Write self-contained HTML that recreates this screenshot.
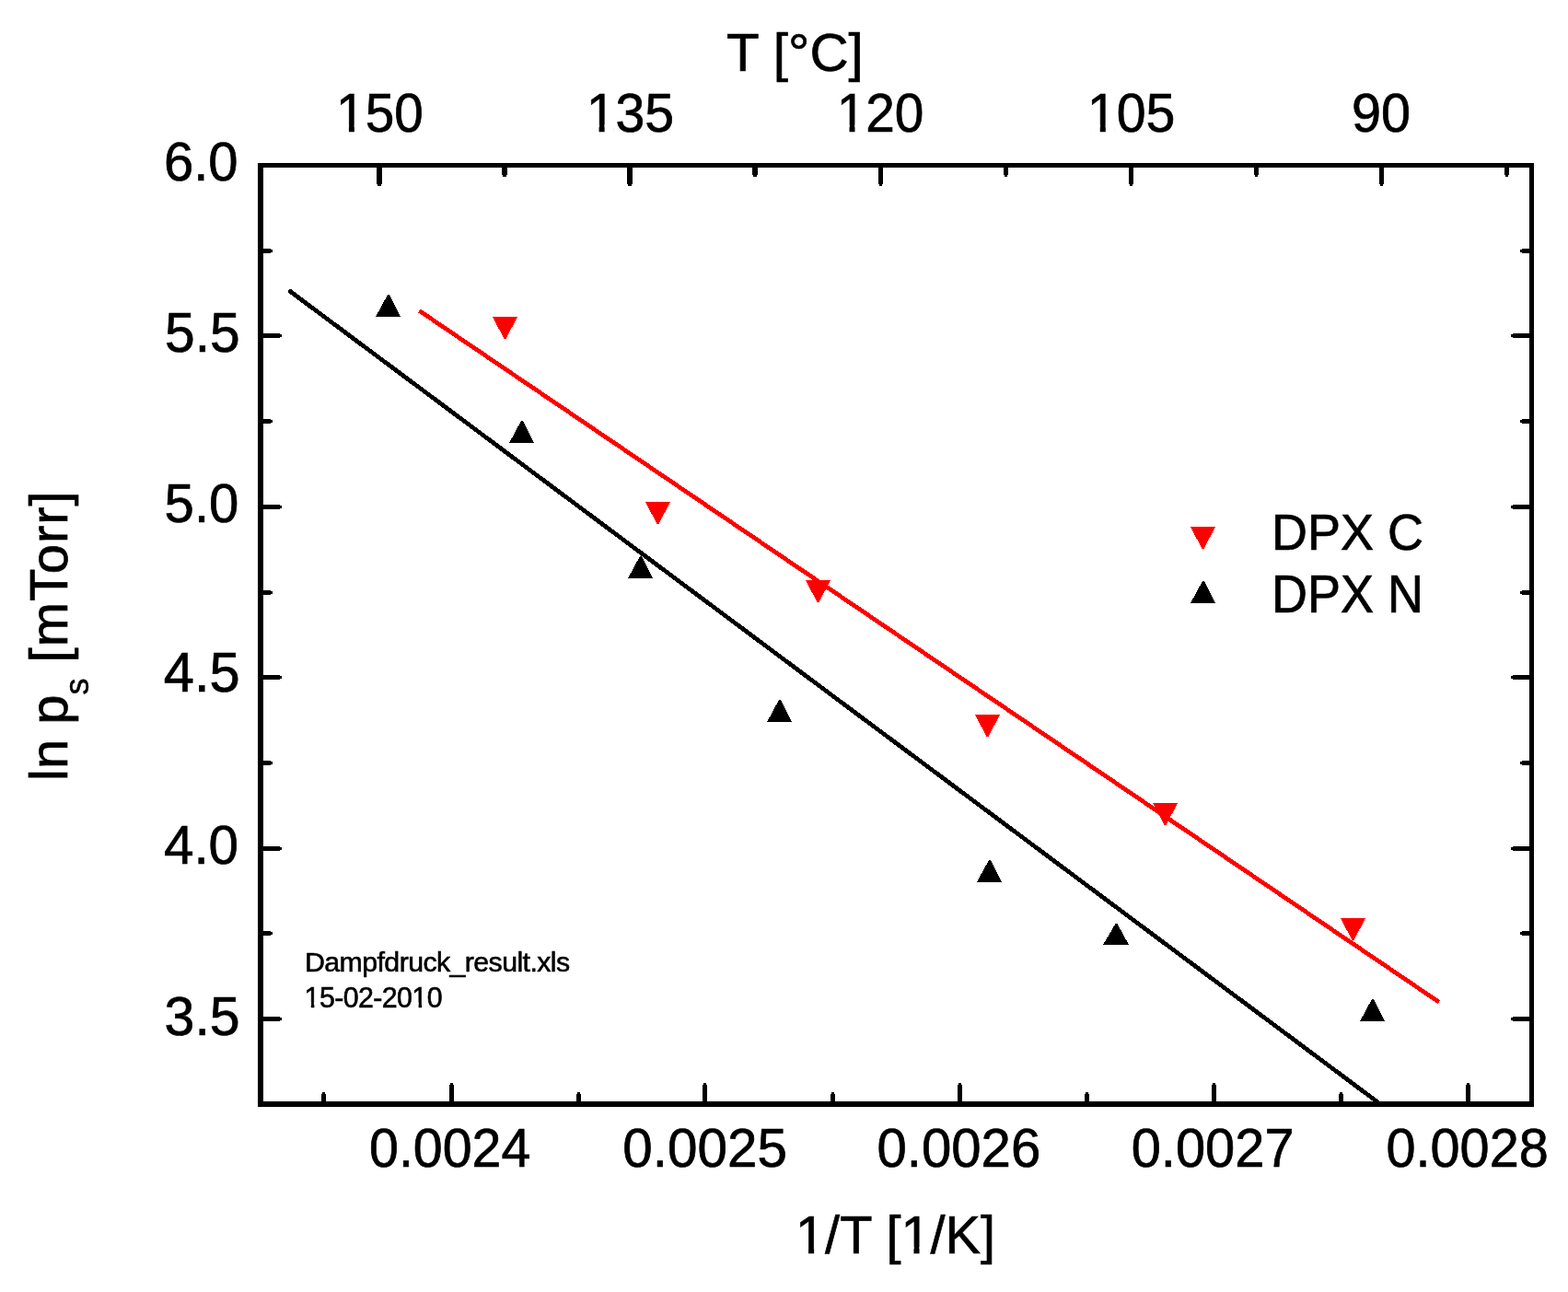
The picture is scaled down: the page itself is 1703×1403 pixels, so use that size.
<!DOCTYPE html>
<html><head><meta charset="utf-8"><title>Dampfdruck</title>
<style>html,body{margin:0;padding:0;background:#fff;overflow:hidden}svg{display:block}</style>
</head><body>
<svg width="1703" height="1403" viewBox="0 0 1703 1403">
<rect x="0" y="0" width="1703" height="1403" fill="#fff"/>
<g fill="none" stroke-linecap="butt" shape-rendering="crispEdges">
<line x1="455.5" y1="337.52" x2="1562.9" y2="1088.2" stroke="#f00" stroke-width="4.7"/>
<line x1="313.6" y1="315.25" x2="1499.2" y2="1199" stroke="#000" stroke-width="4.7"/>
</g>
<g fill="#f00" shape-rendering="crispEdges"><polygon points="535,344 562,344 549.5,368 547.5,368"/><polygon points="701,545 728,545 715.5,569 713.5,569"/><polygon points="875,630 902,630 889.5,654 887.5,654"/><polygon points="1059,776 1086,776 1073.5,800 1071.5,800"/><polygon points="1252,872 1279,872 1266.5,896 1264.5,896"/><polygon points="1456,997 1483,997 1470.5,1021 1468.5,1021"/><polygon points="1293,572 1320,572 1307.5,596 1305.5,596"/></g>
<g fill="#000" shape-rendering="crispEdges"><polygon points="421.0,320 423.0,320 435,344 408,344"/><polygon points="566.0,457 568.0,457 580,481 553,481"/><polygon points="695.0,604 697.0,604 709,628 682,628"/><polygon points="846.0,760 848.0,760 860,784 833,784"/><polygon points="1074.0,934 1076.0,934 1088,957.5 1061,957.5"/><polygon points="1211.5,1003 1213.5,1003 1226,1026 1198,1026"/><polygon points="1490.0,1085 1492.0,1085 1504,1109 1477,1109"/><polygon points="1306.0,631 1308.0,631 1320,655 1293,655"/></g>
<g fill="#000" shape-rendering="crispEdges"><rect x="280.00" y="177.00" width="6" height="1025"/><rect x="1661.00" y="177.00" width="5" height="1025"/><rect x="280.00" y="177.00" width="1386" height="5"/><rect x="280.00" y="1196.00" width="1386" height="6"/><rect x="286.00" y="177.00" width="18" height="5"/><rect x="304.00" y="178.00" width="2" height="3"/><rect x="1643.00" y="177.00" width="18" height="5"/><rect x="1641.00" y="178.00" width="2" height="3"/><rect x="286.00" y="362.40" width="18" height="5"/><rect x="304.00" y="363.40" width="2" height="3"/><rect x="1643.00" y="362.40" width="18" height="5"/><rect x="1641.00" y="363.40" width="2" height="3"/><rect x="286.00" y="547.80" width="18" height="5"/><rect x="304.00" y="548.80" width="2" height="3"/><rect x="1643.00" y="547.80" width="18" height="5"/><rect x="1641.00" y="548.80" width="2" height="3"/><rect x="286.00" y="733.20" width="18" height="5"/><rect x="304.00" y="734.20" width="2" height="3"/><rect x="1643.00" y="733.20" width="18" height="5"/><rect x="1641.00" y="734.20" width="2" height="3"/><rect x="286.00" y="918.60" width="18" height="5"/><rect x="304.00" y="919.60" width="2" height="3"/><rect x="1643.00" y="918.60" width="18" height="5"/><rect x="1641.00" y="919.60" width="2" height="3"/><rect x="286.00" y="1104.00" width="18" height="5"/><rect x="304.00" y="1105.00" width="2" height="3"/><rect x="1643.00" y="1104.00" width="18" height="5"/><rect x="1641.00" y="1105.00" width="2" height="3"/><rect x="286.00" y="269.70" width="8" height="5"/><rect x="294.00" y="270.70" width="2" height="3"/><rect x="1653.00" y="269.70" width="8" height="5"/><rect x="1651.00" y="270.70" width="2" height="3"/><rect x="286.00" y="455.10" width="8" height="5"/><rect x="294.00" y="456.10" width="2" height="3"/><rect x="1653.00" y="455.10" width="8" height="5"/><rect x="1651.00" y="456.10" width="2" height="3"/><rect x="286.00" y="640.50" width="8" height="5"/><rect x="294.00" y="641.50" width="2" height="3"/><rect x="1653.00" y="640.50" width="8" height="5"/><rect x="1651.00" y="641.50" width="2" height="3"/><rect x="286.00" y="825.90" width="8" height="5"/><rect x="294.00" y="826.90" width="2" height="3"/><rect x="1653.00" y="825.90" width="8" height="5"/><rect x="1651.00" y="826.90" width="2" height="3"/><rect x="286.00" y="1011.30" width="8" height="5"/><rect x="294.00" y="1012.30" width="2" height="3"/><rect x="1653.00" y="1011.30" width="8" height="5"/><rect x="1651.00" y="1012.30" width="2" height="3"/><rect x="488.00" y="1178.00" width="5" height="18"/><rect x="489.00" y="1176.00" width="3" height="2"/><rect x="763.00" y="1178.00" width="5" height="18"/><rect x="764.00" y="1176.00" width="3" height="2"/><rect x="1039.50" y="1178.00" width="5" height="18"/><rect x="1040.50" y="1176.00" width="3" height="2"/><rect x="1316.00" y="1178.00" width="5" height="18"/><rect x="1317.00" y="1176.00" width="3" height="2"/><rect x="1592.00" y="1178.00" width="5" height="18"/><rect x="1593.00" y="1176.00" width="3" height="2"/><rect x="349.00" y="1188.00" width="5" height="8"/><rect x="350.00" y="1186.00" width="3" height="2"/><rect x="625.50" y="1188.00" width="5" height="8"/><rect x="626.50" y="1186.00" width="3" height="2"/><rect x="901.50" y="1188.00" width="5" height="8"/><rect x="902.50" y="1186.00" width="3" height="2"/><rect x="1178.00" y="1188.00" width="5" height="8"/><rect x="1179.00" y="1186.00" width="3" height="2"/><rect x="1454.00" y="1188.00" width="5" height="8"/><rect x="1455.00" y="1186.00" width="3" height="2"/><rect x="409.25" y="182.00" width="5.5" height="18"/><rect x="410.25" y="200.00" width="3.5" height="2"/><rect x="681.38" y="182.00" width="5.5" height="18"/><rect x="682.38" y="200.00" width="3.5" height="2"/><rect x="953.50" y="182.00" width="5.5" height="18"/><rect x="954.50" y="200.00" width="3.5" height="2"/><rect x="1225.63" y="182.00" width="5.5" height="18"/><rect x="1226.63" y="200.00" width="3.5" height="2"/><rect x="1497.75" y="182.00" width="5.5" height="18"/><rect x="1498.75" y="200.00" width="3.5" height="2"/><rect x="545.31" y="182.00" width="5.5" height="8"/><rect x="546.31" y="190.00" width="3.5" height="2"/><rect x="817.44" y="182.00" width="5.5" height="8"/><rect x="818.44" y="190.00" width="3.5" height="2"/><rect x="1089.56" y="182.00" width="5.5" height="8"/><rect x="1090.56" y="190.00" width="3.5" height="2"/><rect x="1361.69" y="182.00" width="5.5" height="8"/><rect x="1362.69" y="190.00" width="3.5" height="2"/><rect x="1633.81" y="182.00" width="5.5" height="8"/><rect x="1634.81" y="190.00" width="3.5" height="2"/></g>
<g font-family='"Liberation Sans", Arial, sans-serif' fill="#000">
<g transform="translate(178.00,195.98) scale(1.0000,1.0238)"><text x="0" y="0" font-size="58" stroke="#000" stroke-width="0.7">6.0</text></g>
<g transform="translate(178.97,381.95) scale(1.0132,1.0488)"><text x="0" y="0" font-size="58" stroke="#000" stroke-width="0.7">5.5</text></g>
<g transform="translate(178.60,567.17) scale(1.0013,1.0333)"><text x="0" y="0" font-size="58" stroke="#000" stroke-width="0.7">5.0</text></g>
<g transform="translate(177.87,751.45) scale(1.0273,1.0512)"><text x="0" y="0" font-size="58" stroke="#000" stroke-width="0.7">4.5</text></g>
<g transform="translate(177.89,937.68) scale(1.0077,1.0167)"><text x="0" y="0" font-size="58" stroke="#000" stroke-width="0.7">4.0</text></g>
<g transform="translate(178.56,1123.96) scale(1.0184,1.0357)"><text x="0" y="0" font-size="58" stroke="#000" stroke-width="0.7">3.5</text></g>
<g transform="translate(401.02,1266.98) scale(0.9885,1.0238)"><text x="0" y="0" font-size="58" stroke="#000" stroke-width="0.7">0.0024</text></g>
<g transform="translate(676.29,1266.98) scale(1.0069,1.0238)"><text x="0" y="0" font-size="58" stroke="#000" stroke-width="0.7">0.0025</text></g>
<g transform="translate(952.50,1266.98) scale(1.0023,1.0238)"><text x="0" y="0" font-size="58" stroke="#000" stroke-width="0.7">0.0026</text></g>
<g transform="translate(1228.71,1266.98) scale(0.9971,1.0238)"><text x="0" y="0" font-size="58" stroke="#000" stroke-width="0.7">0.0027</text></g>
<g transform="translate(1505.51,1266.98) scale(0.9936,1.0238)"><text x="0" y="0" font-size="58" stroke="#000" stroke-width="0.7">0.0028</text></g>
<g transform="translate(365.11,142.98) scale(0.9778,1.0238)"><text x="0" y="0" font-size="58" stroke="#000" stroke-width="0.7">150</text><g fill="#fff"><rect x="3.25" y="-7.18" width="10.84" height="9.18"/><rect x="20.21" y="-7.18" width="10.01" height="9.18"/></g></g>
<g transform="translate(636.67,142.58) scale(0.9867,1.0238)"><text x="0" y="0" font-size="58" stroke="#000" stroke-width="0.7">135</text><g fill="#fff"><rect x="3.25" y="-7.18" width="10.84" height="9.18"/><rect x="20.21" y="-7.18" width="10.01" height="9.18"/></g></g>
<g transform="translate(908.71,142.98) scale(0.9789,1.0238)"><text x="0" y="0" font-size="58" stroke="#000" stroke-width="0.7">120</text><g fill="#fff"><rect x="3.25" y="-7.18" width="10.84" height="9.18"/><rect x="20.21" y="-7.18" width="10.01" height="9.18"/></g></g>
<g transform="translate(1180.87,142.98) scale(0.9867,1.0238)"><text x="0" y="0" font-size="58" stroke="#000" stroke-width="0.7">105</text><g fill="#fff"><rect x="3.25" y="-7.18" width="10.84" height="9.18"/><rect x="20.21" y="-7.18" width="10.01" height="9.18"/></g></g>
<g transform="translate(1468.01,142.98) scale(0.9934,1.0238)"><text x="0" y="0" font-size="58" stroke="#000" stroke-width="0.7">90</text></g>
<g transform="translate(788.99,76.77) scale(1.0070,0.9944)"><text x="0" y="0" font-size="58" stroke="#000" stroke-width="0.7">T [°C]</text></g>
<g transform="translate(864.02,1361.22) scale(0.9952,0.9815)"><text x="0" y="0" font-size="58" stroke="#000" stroke-width="0.7">1/T [1/K]</text><g fill="#fff"><rect x="3.25" y="-7.18" width="10.84" height="9.18"/><rect x="20.21" y="-7.18" width="10.01" height="9.18"/><rect x="118.22" y="-7.18" width="10.84" height="9.18"/><rect x="135.18" y="-7.18" width="10.01" height="9.18"/></g></g>
<g transform="translate(1381.00,597.47) scale(1.0000,1.0256)"><text x="0" y="0" font-size="54" stroke="#000" stroke-width="0.7">DPX C</text></g>
<g transform="translate(1381.00,665.00) scale(1.0000,1.0541)"><text x="0" y="0" font-size="54" stroke="#000" stroke-width="0.7">DPX N</text></g>
<g transform="translate(331.01,1054.85) scale(0.9948,0.9500)"><text x="0" y="0" font-size="30.5" letter-spacing="-0.6" stroke="#000" stroke-width="0.6">Dampfdruck_result.xls</text></g>
<g transform="translate(330.61,1093.60) scale(0.9959,1.0273)"><text x="0" y="0" font-size="30.5" letter-spacing="-0.6" stroke="#000" stroke-width="0.6">15-02-2010</text><g fill="#fff"><rect x="1.23" y="-5.08" width="5.99" height="7.08"/><rect x="10.82" y="-5.08" width="5.46" height="7.08"/><rect x="118.52" y="-5.08" width="5.99" height="7.08"/><rect x="128.10" y="-5.08" width="5.46" height="7.08"/></g></g>
<text transform="translate(73,848) rotate(-90)" font-size="58" stroke="#000" stroke-width="0.7">ln p<tspan font-size="36" dy="23" stroke-width="0.5">s</tspan><tspan dy="-23" letter-spacing="0.95"> [mTorr]</tspan></text>
</g></svg>
</body></html>
